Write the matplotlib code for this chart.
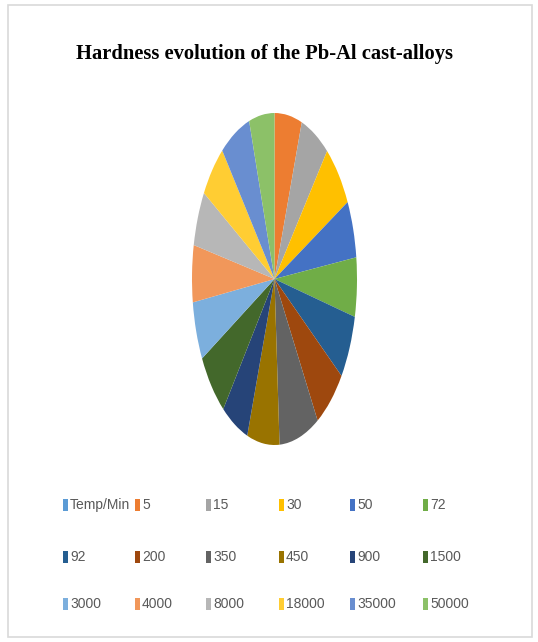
import matplotlib
matplotlib.use("Agg")
import matplotlib.pyplot as plt
from matplotlib.patches import Rectangle

# legend categories (time in minutes) and their share of the pie
categories = ["Temp/Min", "5", "15", "30", "50", "72",
              "92", "200", "350", "450", "900", "1500",
              "3000", "4000", "8000", "18000", "35000", "50000"]
hardness = [0, 19.3, 20.3, 22.8, 20.1, 20.7,
            22.5, 22.8, 28.0, 22.8, 19.1, 23.0,
            20.5, 19.9, 19.4, 19.5, 21.4, 17.9]
colors = ["#5B9BD5", "#ED7D31", "#A5A5A5", "#FFC000", "#4472C4", "#70AD47",
          "#255E91", "#9E480E", "#636363", "#997300", "#264478", "#43682B",
          "#7CAFDD", "#F1975A", "#B7B7B7", "#FFCD33", "#698ED0", "#8CC168"]

W, H = 538, 642
fig = plt.figure(figsize=(W / 100, H / 100), dpi=100)

# outer chart border
fig.patches.append(Rectangle((8 / W, 1 - 637 / H), 524 / W, 632 / H,
                             transform=fig.transFigure, fill=False,
                             edgecolor="#D9D9D9", lw=1.2))

fig.text(265 / W, 1 - 54 / H, "Hardness evolution of the Pb-Al cast-alloys",
         ha="center", va="center", fontsize=14.8, fontweight="bold",
         family="Liberation Serif", color="#000000")

# pie stretched into a tall ellipse
ax = fig.add_axes([192 / W, 1 - 445 / H, 165 / W, 332 / H])
ax.pie(hardness, colors=colors, startangle=90, counterclock=False,
       wedgeprops=dict(linewidth=0))
ax.set_aspect("auto")
ax.set_xlim(-1, 1)
ax.set_ylim(-1, 1)
ax.axis("off")

# legend grid, 6 columns x 3 rows
col_x = [63, 135, 206, 279, 350, 423]
row_y = [505, 557, 604]
for i, (lab, c) in enumerate(zip(categories, colors)):
    x = col_x[i % 6]
    y = row_y[i // 6]
    fig.patches.append(Rectangle((x / W, 1 - (y + 6) / H), 5 / W, 12 / H,
                                 transform=fig.transFigure, color=c, lw=0))
    fig.text((x + 7) / W, 1 - y / H, lab, ha="left", va="center",
             fontsize=10, color="#595959", family="Liberation Sans")

fig.savefig("out.png", dpi=100)
